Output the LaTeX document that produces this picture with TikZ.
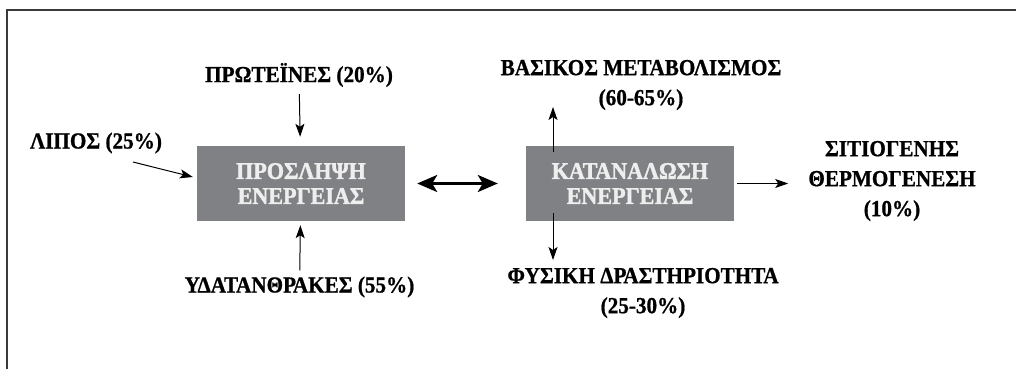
\documentclass[tikz,border=0pt]{standalone}
\usepackage{fontspec}
\setmainfont{Liberation Serif}[FakeStretch=0.92, BoldFeatures={FakeBold=0.8}]
\newfontfamily\boxfont{Liberation Serif}[FakeStretch=0.92, BoldFeatures={FakeBold=1.6}]
\usepackage{xcolor}
\usetikzlibrary{arrows.meta}
\definecolor{boxgrey}{HTML}{808184}
\definecolor{boxtext}{HTML}{EEEEEE}
\definecolor{frameline}{HTML}{3A3A3A}

\begin{document}
\begin{tikzpicture}[
  x=1pt, y=-1pt,
  box/.style={rectangle, fill=boxgrey, minimum width=208pt, minimum height=75pt, inner sep=0pt,
    text=boxtext, align=center, font=\boxfont\fontsize{24}{25}\selectfont\bfseries},
  lbl/.style={inner sep=2pt, align=center, font=\fontsize{23}{30}\selectfont\bfseries},
  arr/.style={-{Stealth[length=13pt,width=9pt,inset=3pt]}, line width=1pt},
  dbl/.style={{Stealth[length=20pt,width=17pt,inset=5pt]}-{Stealth[length=20pt,width=17pt,inset=5pt]}, line width=3pt},
]
\useasboundingbox (0,0) rectangle (1016,369);

% Frame (top and left edges)
\draw[frameline, line width=2pt] (7,369) -- (7,10) -- (1016,10);

% The two boxes
\node[box] (intake) at (301,183.5) {ΠΡΟΣΛΗΨΗ\\ΕΝΕΡΓΕΙΑΣ};
\node[box] (expend) at (630,183.5) {ΚΑΤΑΝΑΛΩΣΗ\\ΕΝΕΡΓΕΙΑΣ};

% Intake sources
\node[lbl] (prot) at (299,75) {ΠΡΩΤΕΪΝΕΣ (20\%)};
\node[lbl] (fat) at (96,143) {ΛΙΠΟΣ (25\%)};
\node[lbl] (carb) at (299.5,287) {ΥΔΑΤΑΝΘΡΑΚΕΣ (55\%)};

% Expenditure parts
\node[lbl] (bmr) at (641,85) {ΒΑΣΙΚΟΣ ΜΕΤΑΒΟΛΙΣΜΟΣ\\(60-65\%)};
\node[lbl] (phys) at (643,293) {ΦΥΣΙΚΗ ΔΡΑΣΤΗΡΙΟΤΗΤΑ\\(25-30\%)};
\node[lbl] (therm) at (892,181) {ΣΙΤΙΟΓΕΝΗΣ\\ΘΕΡΜΟΓΕΝΕΣΗ\\(10\%)};

% Free ends of the arrows
\coordinate (fattail) at (133,162);
\coordinate (bmrtip) at (553,107);
\coordinate (phystip) at (553,260);

% Arrows into intake
\draw[arr, shorten <=5pt, shorten >=9pt] (prot) -- (intake);
\draw[arr, shorten >=4pt] (fattail) -- ([yshift=5.5pt]intake.west);
\draw[arr, shorten <=4pt, shorten >=4pt] (carb) -- (intake);

% Balance
\draw[dbl, shorten <=12pt, shorten >=28pt] (intake.east) -- (expend.west);

% Arrows out of expenditure
\draw[arr] ([xshift=-77pt, yshift=-6pt]expend.north) -- (bmrtip);
\draw[arr] ([xshift=-77pt, yshift=8pt]expend.south) -- (phystip);
\draw[arr, shorten <=3pt, shorten >=18pt] (expend.east) -- (expend.east -| therm.west);
\end{tikzpicture}
\end{document}
